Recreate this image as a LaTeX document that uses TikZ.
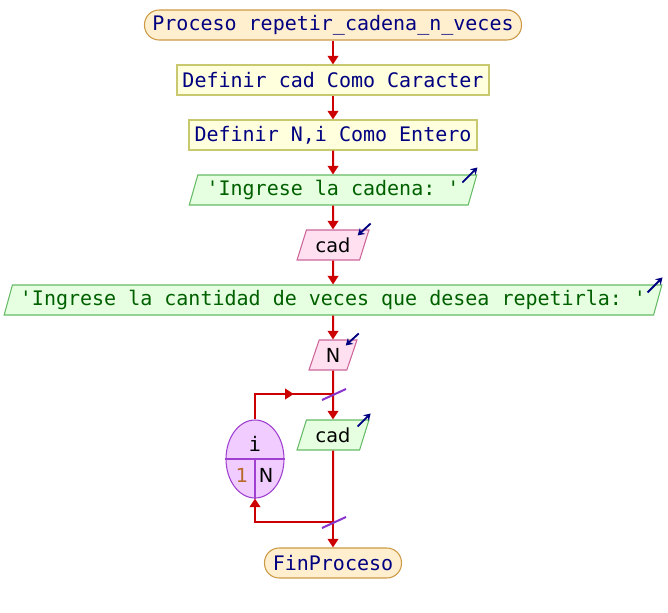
\documentclass[tikz,border=0pt]{standalone}
\usepackage{fontspec}
\setmonofont{DejaVu Sans Mono}
\setsansfont{DejaVu Sans}
\usetikzlibrary{shapes.geometric, positioning, arrows.meta, calc, decorations.markings}

\definecolor{flowred}{HTML}{CC0000}
\definecolor{termfill}{HTML}{FFEFCF}
\definecolor{termdraw}{HTML}{CC9944}
\definecolor{deffill}{HTML}{FFFFDD}
\definecolor{defdraw}{HTML}{C8C86E}
\definecolor{outfill}{HTML}{E6FFE0}
\definecolor{outdraw}{HTML}{66BB66}
\definecolor{outtext}{HTML}{006000}
\definecolor{infill}{HTML}{FFE0F0}
\definecolor{indraw}{HTML}{CC6699}
\definecolor{loopfill}{HTML}{F0CCFF}
\definecolor{loopdraw}{HTML}{A040D0}
\definecolor{slashpurple}{HTML}{8833CC}
\definecolor{iconblue}{HTML}{000080}
\definecolor{startval}{HTML}{B8692A}

\newcommand{\monotext}{\ttfamily\fontsize{15}{15}\selectfont}
\newcommand{\sanstext}{\sffamily\fontsize{14.5}{14.5}\selectfont}

\tikzset{
  termbox/.style={draw=termdraw, fill=termfill, line width=0.8pt, rounded corners=11pt,
    minimum height=22.5pt, inner ysep=2pt, font=\monotext, text=iconblue},
  defbox/.style={draw=defdraw, fill=deffill, line width=0.8pt,
    minimum height=22.5pt, inner ysep=2pt, font=\monotext, text=iconblue},
  outbox/.style={trapezium, trapezium left angle=72, trapezium right angle=108,
    trapezium stretches=true, draw=outdraw, fill=outfill, line width=0.8pt,
    minimum height=22.5pt, inner xsep=1pt, inner ysep=2pt, font=\monotext, text=outtext},
  inbox/.style={trapezium, trapezium left angle=72, trapezium right angle=108,
    trapezium stretches=true, draw=indraw, fill=infill, line width=0.8pt,
    minimum height=22.5pt, inner xsep=1pt, inner ysep=2pt, font=\sanstext, text=black},
  loopbox/.style={ellipse, draw=loopdraw, fill=loopfill, line width=0.8pt,
    minimum width=43.5pt, minimum height=58.5pt, inner sep=0pt},
  loopline/.style={draw=loopdraw, line width=0.8pt},
  flow/.style={draw=flowred, line width=1.5pt},
  arrow/.style={flow, -{Triangle[width=8pt,length=6.5pt]}},
  midarrow/.style={postaction={decorate, decoration={markings,
    mark=at position 0.62 with {\arrow{Triangle[width=8pt,length=6.5pt]}}}}},
  slash/.style={draw=slashpurple, line width=1.5pt},
  icon/.style={draw=iconblue, line width=1.4pt, -{Stealth[width=6pt,length=5pt]}},
}

\begin{document}
\begin{tikzpicture}[x=0.75pt, y=-0.75pt, node distance=41.25pt]
\useasboundingbox (0,0) rectangle (668,613);

\node[termbox, minimum width=282.75pt] (start) at (333,25) {Proceso repetir\_cadena\_n\_veces};
\node[defbox, below of=start, minimum width=234pt] (def1) {Definir cad Como Caracter};
\node[defbox, below of=def1, minimum width=216pt] (def2) {Definir N,i Como Entero};
\node[outbox, below of=def2, minimum width=216pt] (out1) {\textquotesingle Ingrese la cadena: \textquotesingle};
\node[inbox, below of=out1, minimum width=54pt] (in1) {cad};
\node[outbox, below of=in1, minimum width=495pt] (out2) {\textquotesingle Ingrese la cantidad de veces que desea repetirla: \textquotesingle};
\node[inbox, below of=out2, minimum width=36pt] (in2) {N};

\coordinate[below of=in2, node distance=29.25pt] (looptop);
\node[outbox, below of=looptop, node distance=30.75pt, minimum width=54pt, font=\sanstext, text=black] (out3) {cad};
\coordinate[below of=out3, node distance=65.25pt] (loopbot);
\node[termbox, below of=loopbot, node distance=30.75pt, minimum width=102.75pt] (fin) {FinProceso};

\node[loopbox] (loopvar) at (255,459) {};
\draw[loopline] (loopvar.west) -- (loopvar.east);
\draw[loopline] (loopvar.center) -- (loopvar.south);
\node[font=\monotext] (loopi) at ($(loopvar.center)+(0,-15)$) {i};
\node[font=\sanstext, text=startval] (loopfrom) at ($(loopvar.center)+(-13,16)$) {1};
\node[font=\sanstext] (loopto) at ($(loopvar.center)+(11,16)$) {N};

\draw[arrow] (start) -- (def1);
\draw[arrow] (def1) -- (def2);
\draw[arrow] (def2) -- (out1);
\draw[arrow] (out1) -- (in1);
\draw[arrow] (in1) -- (out2);
\draw[arrow] (out2) -- (in2);
\draw[flow] (in2) -- (looptop);
\draw[arrow] (looptop) -- (out3);
\draw[flow] (out3) -- (loopbot);
\draw[arrow] (loopbot) -- (fin);
\draw[flow, midarrow] (loopvar.north) |- (looptop);
\draw[arrow] (loopbot) -| (loopvar.south);

\draw[slash] ($(looptop)+(-11,6)$) -- ($(looptop)+(13,-5)$);
\draw[slash] ($(loopbot)+(-11,6)$) -- ($(loopbot)+(13,-5)$);

\draw[icon] ($(out1.top right corner)+(-15,8)$) -- ++(15,-15);
\draw[icon] ($(out2.top right corner)+(-15,8)$) -- ++(15,-15);
\draw[icon] ($(out3.top right corner)+(-12,7)$) -- ++(13,-13);
\draw[icon] ($(in1.top right corner)+(1,-6)$) -- ++(-13,12);
\draw[icon] ($(in2.top right corner)+(1,-6)$) -- ++(-13,12);
\end{tikzpicture}
\end{document}
